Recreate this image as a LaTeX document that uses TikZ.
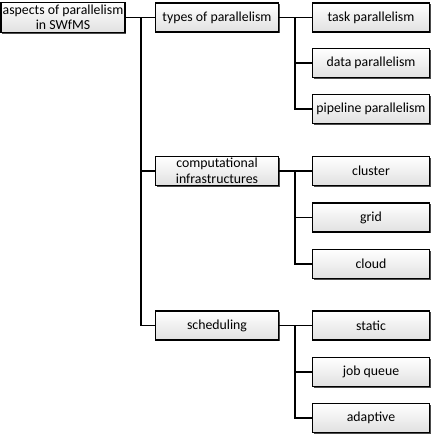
\documentclass[tikz,border=0pt]{standalone}
\usepackage{fontspec}
\setmainfont{Carlito}
\usetikzlibrary{shadows}
\begin{document}
\begin{tikzpicture}[x=1pt,y=-1pt,
  box/.style={draw=black, line width=1.6pt, top color=white, bottom color=black!12,
    drop shadow={shadow xshift=1.4pt, shadow yshift=-1.4pt, fill=black!70, opacity=1},
    align=center, inner sep=0pt, font=\fontsize{13.8}{15.5}\selectfont},
  lone/.style={box, minimum width=123pt, minimum height=29pt},
  ltwo/.style={box, minimum width=117pt, minimum height=29pt},
  conn/.style={draw=black, line width=1.2pt}]
\useasboundingbox (0,0) rectangle (436,436);
\node[box, minimum width=124pt, minimum height=30pt] (root) at (63,17.5) {aspects of parallelism\\in SWfMS};
\node[lone] (types) at (217,17.5) {types of parallelism};
\node[lone] (comp) at (217,171) {computational\\infrastructures};
\node[lone] (sched) at (217,325.5) {scheduling};
\node[ltwo] (task) at (371,17.5) {task parallelism};
\node[ltwo] (data) at (371,63) {data parallelism};
\node[ltwo] (pipe) at (371,109) {pipeline parallelism};
\node[ltwo] (clus) at (371,171) {cluster};
\node[ltwo] (grid) at (371,217.5) {grid};
\node[ltwo] (cloud) at (371,264) {cloud};
\node[ltwo] (stat) at (371,325.5) {static};
\node[ltwo] (jobq) at (371,372) {job queue};
\node[ltwo] (adap) at (371,418) {adaptive};
\coordinate (j1) at (141,17.5);
\coordinate (ja) at (295,17.5);
\coordinate (jb) at (295,171);
\coordinate (jc) at (295,325.5);
\draw[conn] (root.east) -- (types.west);
\draw[conn] (j1) |- (sched.west);
\draw[conn] (j1 |- comp.west) -- (comp.west);
\draw[conn] (types.east) -- (task.west);
\draw[conn] (ja) |- (pipe.west);
\draw[conn] (ja |- data.west) -- (data.west);
\draw[conn] (comp.east) -- (clus.west);
\draw[conn] (jb) |- (cloud.west);
\draw[conn] (jb |- grid.west) -- (grid.west);
\draw[conn] (sched.east) -- (stat.west);
\draw[conn] (jc) |- (adap.west);
\draw[conn] (jc |- jobq.west) -- (jobq.west);
\end{tikzpicture}
\end{document}
